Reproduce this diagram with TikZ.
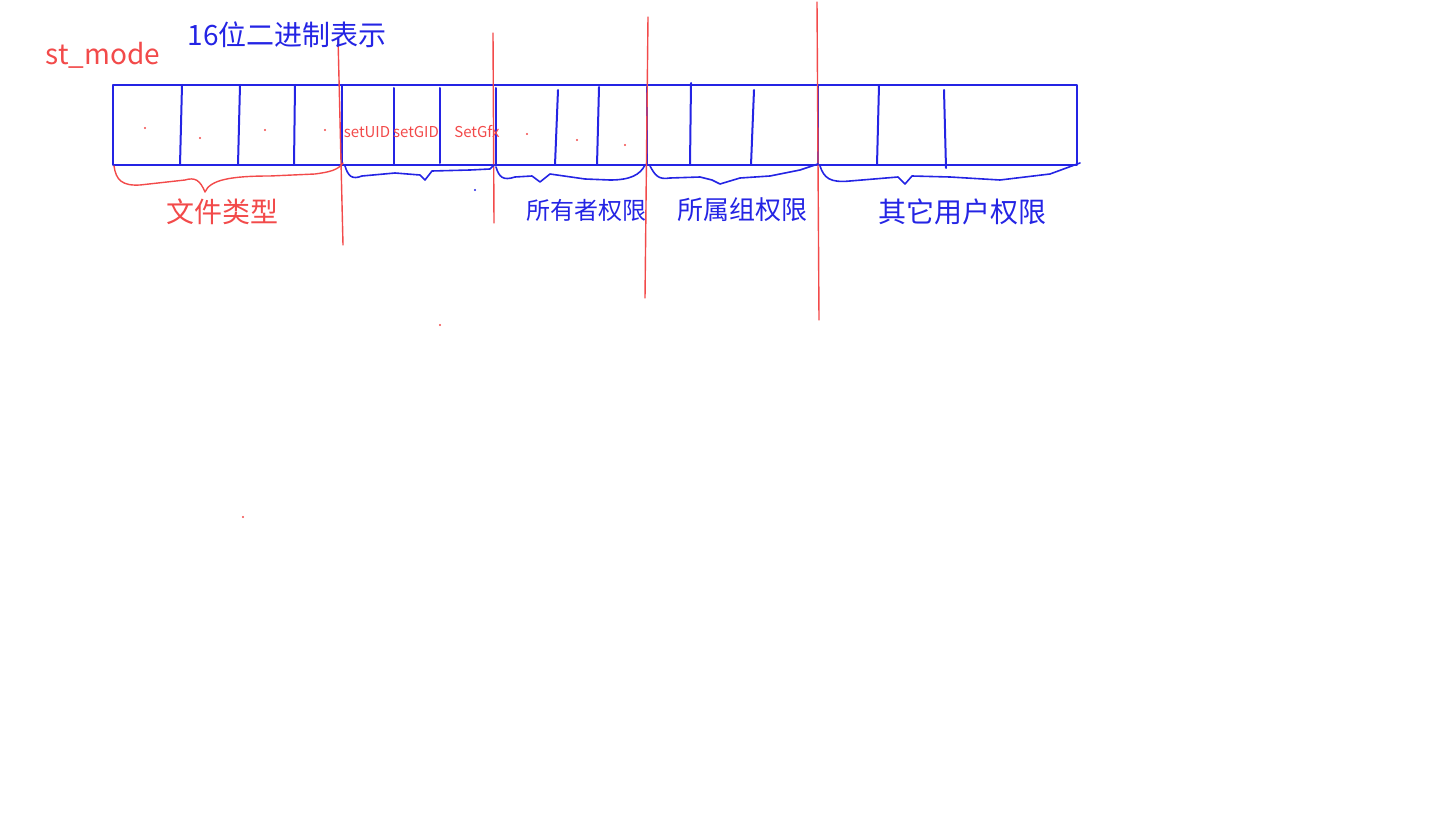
\documentclass[tikz,border=0pt]{standalone}
\usepackage{fontspec}
\setmainfont{Noto Sans CJK SC}
\usetikzlibrary{positioning,calc}
\definecolor{penblue}{HTML}{2424E4}
\definecolor{penred}{HTML}{F24A4A}
\tikzset{
  bluepen/.style={draw=penblue,line width=1pt,line cap=round,line join=round},
  redpen/.style={draw=penred,line width=0.7pt,line cap=round,line join=round},
  bluelbl/.style={text=penblue,inner sep=0pt},
  redlbl/.style={text=penred,inner sep=0pt},
}
\begin{document}
\begin{tikzpicture}[x=0.5pt,y=-0.5pt]
\useasboundingbox (0,0) rectangle (1440,824);
% the 16 bit register
\node[bluepen,minimum width=482pt,minimum height=40pt,inner sep=0pt] (frame) at (595,125) {};
\foreach \xt/\yt/\xb/\yb in {182/85/180/165,240/85/238/165,295/85/294/165,342/85/342/165,
  394/88/394/165,440/88/440/163,496/88/496/165,558/90/555/165,599/87/597/165,647/87/647/165,
  691/83/690/165,754/90/751/165,818/85/818/165,879/85/877/165,944/90/946/168}{
  \draw[bluepen] (\xt,\yt) -- (\xb,\yb);
}
% red separators
\draw[redpen] (338,37) -- (343,245);
\draw[redpen] (493,33) -- (494,223);
\draw[redpen] (648,17) -- (645,298);
\draw[redpen] (817,2) -- (819,320);
% braces
\draw[redpen] (114,166) .. controls (116,180) and (122,186) .. (140,185)
  -- (185,180) .. controls (195,177) and (200,180) .. (205,192)
  .. controls (210,180) and (230,176) .. (270,176) -- (315,174)
  .. controls (330,172) and (338,170) .. (343,163);
\begin{scope}[line width=0.8pt]
\draw[bluepen,line width=0.8pt] (345,166) .. controls (348,176) and (352,180) .. (362,176)
  -- (395,173) -- (420,175) -- (425,180) -- (432,171) -- (470,170) -- (490,169) -- (494,165);
\draw[bluepen,line width=0.8pt] (496,167) .. controls (499,177) and (503,181) .. (515,177)
  -- (532,176) -- (540,182) -- (550,174) -- (585,179) -- (610,180)
  .. controls (630,180) and (640,175) .. (645,165);
\draw[bluepen,line width=0.8pt] (650,166) .. controls (655,175) and (658,180) .. (670,178)
  -- (700,177) -- (712,180) -- (720,184) -- (740,178) -- (770,176)
  -- (800,170) -- (818,164);
\draw[bluepen,line width=0.8pt] (820,166) .. controls (824,178) and (830,183) .. (850,181)
  -- (898,177) -- (905,184) -- (912,176) -- (950,177) -- (1000,180)
  -- (1050,174) -- (1080,163);
\end{scope}
% stray pen marks
\foreach \px/\py/\pc in {145/128/penred,200/138/penred,265/130/penred,325/130/penred,
  527/134/penred,577/140/penred,625/145/penred,475/190/penblue,440/325/penred,243/517/penred}{
  \fill[\pc] (\px,\py) circle (0.6pt);
}
% labels
\node[redlbl,font=\fontsize{14}{14}\selectfont] (stmode) at (103,55) {st\_mode};
\node[bluelbl,font=\fontsize{14}{14}\selectfont] (bits) at (287,35) {16位二进制表示};
\node[redlbl,font=\fontsize{7.5}{8}\selectfont] (suid) at (367,132) {setUID};
\node[redlbl,font=\fontsize{7.5}{8}\selectfont] (sgid) at (416,132) {setGID};
\node[redlbl,font=\fontsize{7.5}{8}\selectfont] (sticky) at (477,132) {SetGfx};
\node[redlbl,font=\fontsize{14}{14}\selectfont] (ftype) at (222,212) {文件类型};
\node[bluelbl,font=\fontsize{12}{12}\selectfont] (owner) at (586,210) {所有者权限};
\node[bluelbl,font=\fontsize{13}{13}\selectfont] (group) at (742,210) {所属组权限};
\node[bluelbl,font=\fontsize{14}{14}\selectfont] (other) at (962,212) {其它用户权限};
\end{tikzpicture}
\end{document}
